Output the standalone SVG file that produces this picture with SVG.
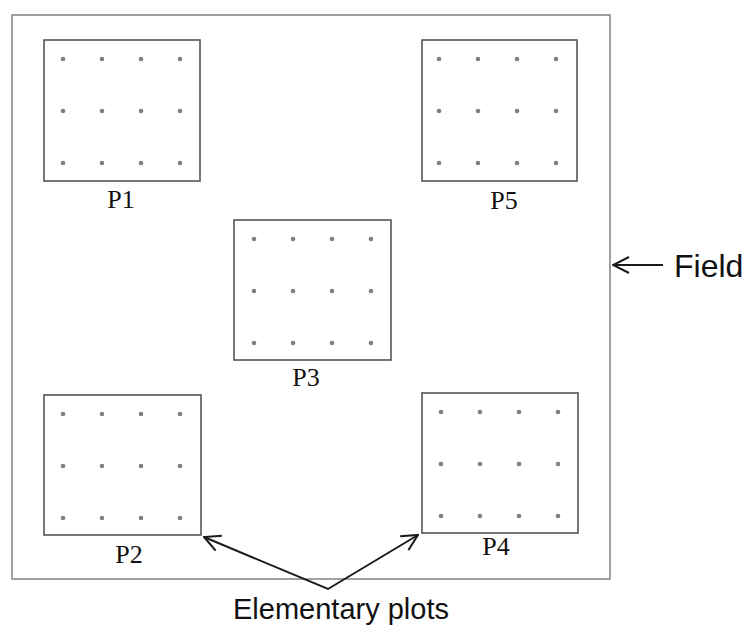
<svg xmlns="http://www.w3.org/2000/svg" width="747" height="626" viewBox="0 0 747 626">
<defs>
<style>
.box{fill:#fff;stroke:#555;stroke-width:1.6}
.field{fill:#fff;stroke:#8a8a8a;stroke-width:1.6}
.dot{fill:#808080}
.lbl{font-family:"Liberation Serif","Times New Roman",serif;font-size:26px;fill:#111;text-anchor:middle}
.sans{font-family:"Liberation Sans",Arial,sans-serif;fill:#111}
.conn{fill:none;stroke:#1a1a1a;stroke-width:2}
</style>
<marker id="arr" viewBox="0 0 20 20" refX="19" refY="10" markerWidth="20" markerHeight="20" markerUnits="userSpaceOnUse" orient="auto-start-reverse">
<path d="M3,2 L19,10 L3,18" fill="none" stroke="#1a1a1a" stroke-width="2"/>
</marker>
<g id="dots">
<circle class="dot" cx="19" cy="19" r="2.3"/><circle class="dot" cx="58" cy="19" r="2.3"/><circle class="dot" cx="97" cy="19" r="2.3"/><circle class="dot" cx="136" cy="19" r="2.3"/>
<circle class="dot" cx="19" cy="71" r="2.3"/><circle class="dot" cx="58" cy="71" r="2.3"/><circle class="dot" cx="97" cy="71" r="2.3"/><circle class="dot" cx="136" cy="71" r="2.3"/>
<circle class="dot" cx="19" cy="123" r="2.3"/><circle class="dot" cx="58" cy="123" r="2.3"/><circle class="dot" cx="97" cy="123" r="2.3"/><circle class="dot" cx="136" cy="123" r="2.3"/>
</g>
</defs>
<rect width="747" height="626" fill="#fff"/>
<g id="field">
<rect class="field" x="12" y="15" width="598" height="564"/>
<text class="sans" x="674" y="277" font-size="32">Field</text>
</g>
<g id="P1">
<rect class="box" x="44" y="40" width="156" height="141"/>
<use href="#dots" x="44" y="40"/>
<text class="lbl" x="121" y="208">P1</text>
</g>
<g id="P5">
<rect class="box" x="422" y="40" width="155" height="141"/>
<use href="#dots" x="420" y="40"/>
<text class="lbl" x="504" y="209">P5</text>
</g>
<g id="P3">
<rect class="box" x="234" y="220" width="157" height="140"/>
<use href="#dots" x="235" y="220"/>
<text class="lbl" x="306" y="386">P3</text>
</g>
<g id="P2">
<rect class="box" x="44" y="395" width="157" height="140"/>
<use href="#dots" x="44" y="395"/>
<text class="lbl" x="129" y="563">P2</text>
</g>
<g id="P4">
<rect class="box" x="422" y="393" width="156" height="140"/>
<use href="#dots" x="422" y="393"/>
<text class="lbl" x="496" y="555">P4</text>
</g>
<g id="connectors">
<line class="conn" x1="663" y1="265" x2="613" y2="265" marker-end="url(#arr)"/>
<polyline class="conn" points="204,537 328,589 418,535" marker-start="url(#arr)" marker-end="url(#arr)"/>
</g>
<g id="caption">
<text class="sans" x="233" y="619" font-size="29">Elementary plots</text>
</g>
</svg>
